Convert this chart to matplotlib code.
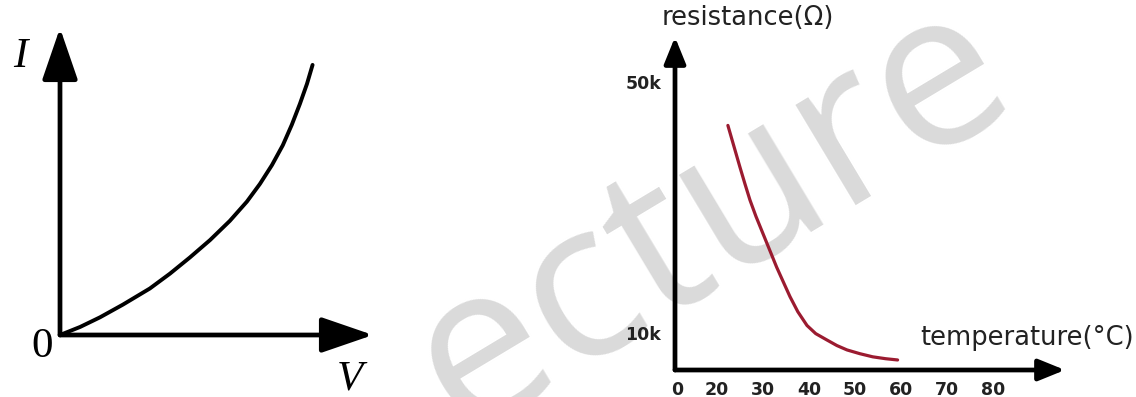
"""
Two sketch graphs side by side: the I-V curve of a non-ohmic component
and the resistance of a thermistor falling with temperature.
"""
import matplotlib.pyplot as plt

# left panel: I-V curve (arbitrary units)
volts = [0, 0.65, 1.29, 2.03, 2.90, 3.55, 4.19, 4.84, 5.48, 6.03, 6.45,
         6.84, 7.19, 7.48, 7.74, 7.97, 8.15]
amps = [0, 0.26, 0.57, 0.98, 1.50, 1.98, 2.50, 3.06, 3.68, 4.30, 4.87,
        5.48, 6.12, 6.78, 7.45, 8.10, 8.71]

# right panel: thermistor, temperature in degC, resistance in kOhm
temps = [22.4, 23.7, 25.0, 26.1, 27.2, 28.5, 30.0, 31.5, 33.0, 34.6, 35.9,
         37.6, 39.6, 41.5, 43.9, 46.1, 48.3, 51.1, 53.9, 56.7, 59.3]
resist_k = [43.1, 39.8, 36.5, 33.8, 31.2, 28.6, 25.9, 23.2, 20.5, 17.9, 15.8,
            13.4, 11.2, 9.9, 8.9, 8.0, 7.3, 6.7, 6.2, 5.9, 5.7]
temp_ticks = [11.3, 20, 30, 40, 50, 60, 70, 80]
temp_labels = ["0", "20", "30", "40", "50", "60", "70", "80"]
res_ticks = [10, 50]
res_labels = ["10k", "50k"]

W, H = 1136, 397


def px_axes(fig, x0, y0, x1, y1):
    # pixel box (origin corner, far corner) -> axes in figure fraction
    ax = fig.add_axes([x0 / W, (H - y0) / H, (x1 - x0) / W, (y0 - y1) / H])
    ax.set_facecolor("none")
    for s in ax.spines.values():
        s.set_visible(False)
    return ax


def arrow_axes(ax, lw, hl, hw):
    style = f"-|>,head_length={hl},head_width={hw}"
    for tip in [(1, 0), (0, 1)]:
        ax.annotate("", xy=tip, xytext=(0, 0), xycoords="axes fraction",
                    arrowprops=dict(arrowstyle=style, lw=lw, color="black",
                                    shrinkA=0, shrinkB=0, mutation_scale=1))


fig = plt.figure(figsize=(W / 100, H / 100), dpi=100)

# watermark
fig.text(712 / W, 1 - 218 / H, "ecture", family="Open Sans", fontsize=158,
         color="#dadada", rotation=31, ha="center", va="center", zorder=-5)

# --- I-V curve
ax1 = px_axes(fig, 60, 335, 373, 28)
ax1.plot(volts, amps, color="black", lw=2.8, solid_capstyle="round")
ax1.set_xlim(0, 10.1)
ax1.set_ylim(0, 9.9)
ax1.set_xticks([])
ax1.set_yticks([])
arrow_axes(ax1, 3.4, 32, 11)
serif = "Liberation Serif"
fig.text(20 / W, 1 - 57 / H, "I", family=serif, style="italic", fontsize=31,
         ha="center", va="center")
fig.text(42 / W, 1 - 347 / H, "0", family=serif, fontsize=31,
         ha="center", va="center")
fig.text(350 / W, 1 - 379 / H, "V", family=serif, style="italic", fontsize=31,
         ha="center", va="center")

# --- thermistor curve
ax2 = px_axes(fig, 675, 370, 1065, 37)
ax2.plot(temps, resist_k, color="#9b1b30", lw=2.3, solid_capstyle="round")
ax2.set_xlim(10.9, 95.7)
ax2.set_ylim(4.1, 57.2)
ax2.set_xticks(temp_ticks, temp_labels)
ax2.set_yticks(res_ticks, res_labels)
ax2.tick_params(length=0, labelsize=12.5, labelcolor="#222222")
ax2.tick_params(axis="x", pad=8)
ax2.tick_params(axis="y", pad=10)
for t in ax2.get_xticklabels() + ax2.get_yticklabels():
    t.set_fontweight("bold")
arrow_axes(ax2, 3.4, 16, 6.5)
fig.text(748 / W, 1 - 18 / H, "resistance(\u03a9)", fontsize=18.5,
         color="#222222", ha="center", va="center")
fig.text(1027 / W, 1 - 338 / H, "temperature(\u00b0C)", fontsize=18.5,
         color="#222222", ha="center", va="center")

fig.savefig("out.png", dpi=100)
